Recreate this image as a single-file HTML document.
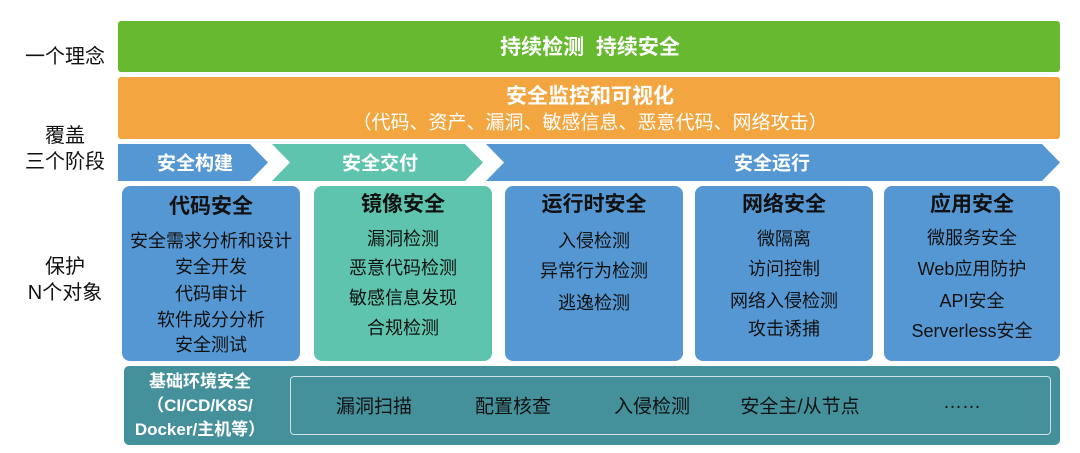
<!DOCTYPE html>
<html><head><meta charset="utf-8"><style>
body{margin:0;width:1080px;height:453px;background:#fff;position:relative;overflow:hidden;font-family:"Liberation Sans","Noto Sans CJK SC",sans-serif}
.a{position:absolute}
.t{position:absolute;transform:translate(-50%,-50%);white-space:nowrap}
.lab{font-size:20px;color:#111;text-align:center;line-height:26px}
.box{position:absolute;top:186px;height:175px;border-radius:8px}
.ttl{font-weight:bold;font-size:21px;color:#111}
.it{font-size:18px;color:#111}
.w{color:#fff}
</style></head><body>
<div class="t lab" style="left:65px;top:57px">一个理念</div>
<div class="t lab" style="left:65px;top:149px">覆盖<br>三个阶段</div>
<div class="t lab" style="left:65px;top:280px">保护<br>N个对象</div>

<div class="a" style="left:118px;top:21px;width:942px;height:51px;background:#67b930;border-radius:3px"></div>
<div class="t w" style="left:590px;top:46px;font-size:21px;font-weight:bold">持续检测&nbsp;&nbsp;持续安全</div>

<div class="a" style="left:118px;top:77px;width:942px;height:62px;background:#f3a640;border-radius:3px"></div>
<div class="t w" style="left:590px;top:95px;font-size:21px;font-weight:bold">安全监控和可视化</div>
<div class="t w" style="left:590px;top:121px;font-size:19px">（代码、资产、漏洞、敏感信息、恶意代码、网络攻击）</div>

<svg class="a" style="left:0;top:0" width="1080" height="453">
<polygon points="118,144 250,144 268,162.5 250,181 118,181" fill="#5597d2"/>
<polygon points="272,144 465,144 483,162.5 465,181 272,181 290,162.5" fill="#5ec4ad"/>
<polygon points="486,144 1042,144 1060,162.5 1042,181 486,181 504,162.5" fill="#5597d2"/>
</svg>
<div class="t w" style="left:195px;top:162px;font-size:19px;font-weight:bold">安全构建</div>
<div class="t w" style="left:380px;top:162px;font-size:19px;font-weight:bold">安全交付</div>
<div class="t w" style="left:772px;top:162px;font-size:19px;font-weight:bold">安全运行</div>

<div class="box" style="left:122px;width:178px;background:#5597d2"></div>
<div class="box" style="left:314px;width:178px;background:#5ec4ad"></div>
<div class="box" style="left:505px;width:178px;background:#5597d2"></div>
<div class="box" style="left:695px;width:178px;background:#5597d2"></div>
<div class="box" style="left:884px;width:176px;background:#5597d2"></div>

<div class="t ttl" style="left:211px;top:205px">代码安全</div>
<div class="t it" style="left:211px;top:240px">安全需求分析和设计</div>
<div class="t it" style="left:211px;top:266px">安全开发</div>
<div class="t it" style="left:211px;top:293px">代码审计</div>
<div class="t it" style="left:211px;top:319px">软件成分分析</div>
<div class="t it" style="left:211px;top:344px">安全测试</div>

<div class="t ttl" style="left:403px;top:203px">镜像安全</div>
<div class="t it" style="left:403px;top:238px">漏洞检测</div>
<div class="t it" style="left:403px;top:267px">恶意代码检测</div>
<div class="t it" style="left:403px;top:297px">敏感信息发现</div>
<div class="t it" style="left:403px;top:327px">合规检测</div>

<div class="t ttl" style="left:594px;top:203px">运行时安全</div>
<div class="t it" style="left:594px;top:240px">入侵检测</div>
<div class="t it" style="left:594px;top:270px">异常行为检测</div>
<div class="t it" style="left:594px;top:302px">逃逸检测</div>

<div class="t ttl" style="left:784px;top:203px">网络安全</div>
<div class="t it" style="left:784px;top:238px">微隔离</div>
<div class="t it" style="left:784px;top:268px">访问控制</div>
<div class="t it" style="left:784px;top:300px">网络入侵检测</div>
<div class="t it" style="left:784px;top:328px">攻击诱捕</div>

<div class="t ttl" style="left:972px;top:203px">应用安全</div>
<div class="t it" style="left:972px;top:237px">微服务安全</div>
<div class="t it" style="left:972px;top:268px">Web应用防护</div>
<div class="t it" style="left:972px;top:300px">API安全</div>
<div class="t it" style="left:972px;top:330px">Serverless安全</div>

<div class="a" style="left:124px;top:366px;width:936px;height:79px;background:#44919c;border-radius:5px"></div>
<div class="t w" style="left:200px;top:406px;font-size:17px;font-weight:bold;text-align:center;line-height:24px">基础环境安全<br>（CI/CD/K8S/<br>Docker/主机等）</div>
<div class="a" style="left:290px;top:376px;width:759px;height:57px;border:1.5px solid #cfe3e6;border-radius:4px"></div>
<div class="t it" style="left:374px;top:405px;font-size:19px">漏洞扫描</div>
<div class="t it" style="left:513px;top:405px;font-size:19px">配置核查</div>
<div class="t it" style="left:652px;top:405px;font-size:19px">入侵检测</div>
<div class="t it" style="left:800px;top:405px;font-size:19px">安全主/从节点</div>
<div class="t it" style="left:962px;top:403px;font-size:19px">……</div>
</body></html>
